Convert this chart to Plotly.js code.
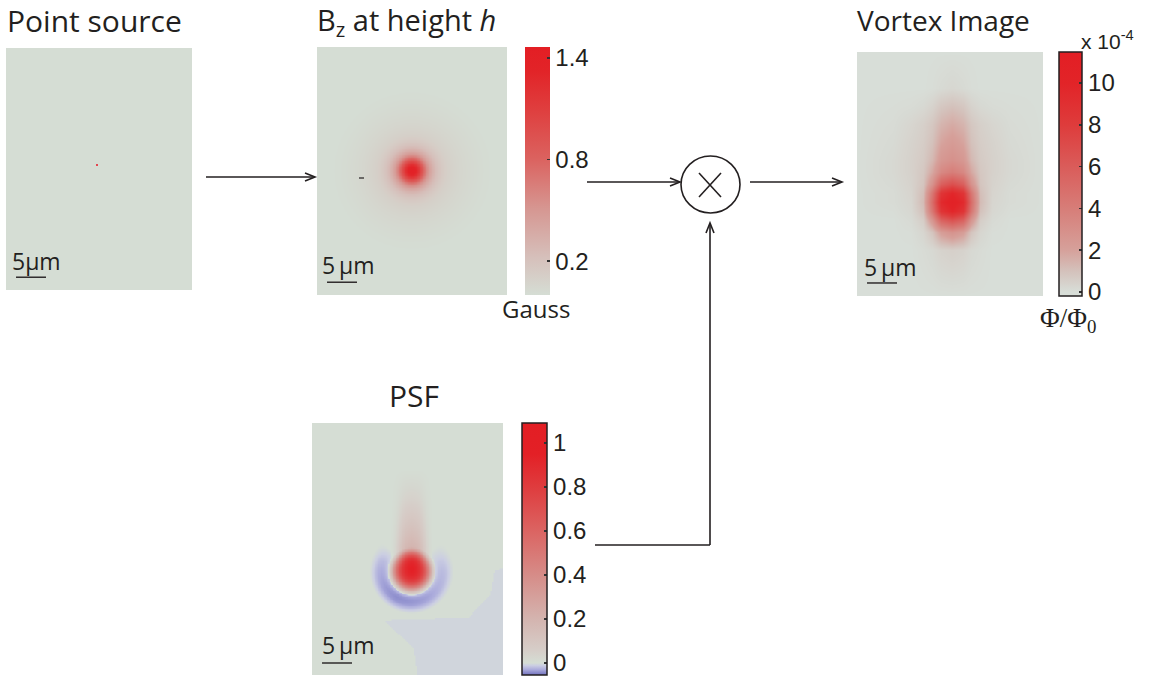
<!DOCTYPE html>
<html><head><meta charset="utf-8">
<script src="https://cdn.plot.ly/plotly-3.0.1.min.js"></script>
<style>html,body{margin:0;padding:0;background:#fff}#chart{width:1156px;height:679px}</style>
</head><body><div id="chart"></div>
<script>
// ================= DATA =================
// Panel sizes in micrometres (6 px per µm; scale bar = 5 µm)
const pointSize  = [31.0, 40.33];
const bzSize     = [31.67, 41.33];
const vortexSize = [31.0, 40.67];
const psfSize    = [31.83, 42.0];

// Point source: one tiny source cell (cell edges in µm)
const pointX = [0, 15.0, 15.35, 31.0];
const pointY = [0, 19.35, 19.7, 40.33];
const pointZ = [[0,0,0],[0,1,0],[0,0,0]];

// Bz at height h: radial profile (µm -> Gauss), centre in µm
const bzCenter = [15.8, 20.5];
const bzRadius = [0, 0.5, 1, 1.5, 2, 2.5, 3, 3.5, 4, 4.5, 5, 5.5, 6, 7, 8, 9, 10, 11, 12, 13, 14];
const bzValue  = [1.42, 1.37, 1.22, 1.0, 0.77, 0.57, 0.42, 0.32, 0.24, 0.19, 0.15, 0.12, 0.1, 0.075, 0.056, 0.042, 0.03, 0.02, 0.011, 0.004, 0];
const bzTicks  = [0.2, 0.8, 1.4];

// Vortex image (units of 1e-4 Phi0), node coordinates in µm
const vortexX = [0, 6, 9, 11, 12.5, 14, 15.8, 17.6, 19, 20.5, 22.5, 25.5, 31];
const vortexY = [0, 6, 9, 12, 15, 18, 20, 22, 23.5, 25, 26.5, 28, 30, 33, 40.67];
const vortexZ = [
  [0,0,0,0,0,0,0,0,0,0,0,0,0],
  [0,0,0,0,0.05,0.15,0.25,0.15,0.05,0,0,0,0],
  [0,0.05,0.1,0.2,0.4,0.8,1.0,0.8,0.4,0.2,0.1,0.05,0],
  [0,0.1,0.3,0.5,0.8,1.4,1.7,1.4,0.8,0.5,0.3,0.1,0],
  [0,0.15,0.4,0.6,1.0,1.9,2.3,1.9,1.0,0.6,0.4,0.15,0],
  [0,0.2,0.45,0.7,1.3,2.5,2.9,2.5,1.3,0.7,0.45,0.2,0],
  [0,0.2,0.45,0.8,1.8,3.4,4.0,3.4,1.8,0.8,0.45,0.2,0],
  [0,0.15,0.4,0.9,2.8,5.8,6.8,5.8,2.8,0.9,0.4,0.15,0],
  [0,0.1,0.35,1.1,4.4,8.6,9.8,8.6,4.4,1.1,0.35,0.1,0],
  [0,0.1,0.3,1.2,5.0,9.5,10.6,9.5,5.0,1.2,0.3,0.1,0],
  [0,0.05,0.25,1.0,4.4,8.6,9.8,8.6,4.4,1.0,0.25,0.05,0],
  [0,0,0.15,0.6,2.6,5.6,6.6,5.6,2.6,0.6,0.15,0,0],
  [0,0,0.05,0.3,0.9,2.2,2.8,2.2,0.9,0.3,0.05,0,0],
  [0,0,0,0.1,0.2,0.4,0.5,0.4,0.2,0.1,0,0,0],
  [0,0,0,0,0,0,0,0,0,0,0,0,0]
];
const vortexTicks = [0, 2, 4, 6, 8, 10];

// PSF pieces (µm, centre of the peak)
const psfCenter = [16.5, 24.6];
const psfBlobR = [0, 0.5, 1, 1.5, 2, 2.5, 3, 3.5, 4];            // radial profile of the peak
const psfBlobV = [0.95, 0.93, 0.89, 0.82, 0.71, 0.54, 0.34, 0.12, 0];
const psfRingR = [3.5, 4.0, 4.5, 5.0, 5.6, 6.1, 6.6, 7.0];       // negative crescent, radial weight
const psfRingW = [0, 0.5, 0.9, 1, 0.9, 0.6, 0.25, 0];
const psfRingAngle = [-180, -135, -125, -110, -90, -60, -30, 0, 30, 60, 90, 110, 125, 135, 180]; // deg from "down"
const psfRingDepth = [0, 0, -0.01, -0.022, -0.03, -0.037, -0.043, -0.04, -0.035, -0.027, -0.022, -0.015, -0.006, 0, 0];
const psfTailDy = [-17, -14, -12, -10, -8, -6, -4, -3, -2, -1, 0];  // upward tail, centre-line values
const psfTailV  = [0, 0.025, 0.045, 0.075, 0.11, 0.15, 0.2, 0.22, 0.15, 0.05, 0];
const psfTailDx = [0, 0.5, 1, 1.5, 2, 2.5, 3, 3.5];                 // tail lateral fall-off
const psfTailW  = [1, 0.95, 0.87, 0.7, 0.45, 0.22, 0.08, 0];
const psfPatch  = [[11.8,32.8],[26,32.3],[29.7,28.3],[30.3,24.5],[31.83,24],[31.83,42],[17.5,42],[16.8,37.3]];
const psfPatchV = -0.0065;                                          // faint negative patch, lower right
const psfTicks = [0, 0.2, 0.4, 0.6, 0.8, 1];

// ================= BUILD =================
const W = 1156, H = 679;
const px = x => x / W;
const py = y => 1 - y / H;
const ink = '#231f20';
const bg = 'rgb(213,221,212)';

function lookup(xs, ys, v) {
  if (v <= xs[0]) return ys[0];
  if (v >= xs[xs.length - 1]) return ys[ys.length - 1];
  let k = 1; while (xs[k] < v) k++;
  const f = (v - xs[k-1]) / (xs[k] - xs[k-1]);
  return ys[k-1] + f * (ys[k] - ys[k-1]);
}
function nodes(size, step) { const a = []; for (let v = 0; v <= size + 1e-6; v += step) a.push(+v.toFixed(3)); return a; }
function inPoly(pt, poly) {
  let c = false;
  for (let i = 0, j = poly.length - 1; i < poly.length; j = i++) {
    const [xi, yi] = poly[i], [xj, yj] = poly[j];
    if ((yi > pt[1]) !== (yj > pt[1]) && pt[0] < (xj - xi) * (pt[1] - yi) / (yj - yi) + xi) c = !c;
  }
  return c;
}

// Bz table from the radial profile
const bzX = nodes(bzSize[0], 0.25), bzY = nodes(bzSize[1], 0.25);
const bzZ = bzY.map(y => bzX.map(x => lookup(bzRadius, bzValue, Math.hypot(x - bzCenter[0], y - bzCenter[1]))));

// PSF table from its read pieces
const psfGX = nodes(psfSize[0], 0.25), psfGY = nodes(psfSize[1], 0.25);
const psfZ = psfGY.map(y => psfGX.map(x => {
  const dx = x - psfCenter[0], dy = y - psfCenter[1];
  const r = Math.hypot(dx, dy);
  const ang = Math.atan2(dx, dy) * 180 / Math.PI;
  let v = lookup(psfBlobR, psfBlobV, r);
  v += lookup(psfRingR, psfRingW, r) * lookup(psfRingAngle, psfRingDepth, ang);
  if (dy <= 0) v += lookup(psfTailDy, psfTailV, dy) * lookup(psfTailDx, psfTailW, Math.abs(dx));
  if (inPoly([x, y], psfPatch)) v = Math.min(v, psfPatchV);
  return v;
}));

const redScale = [
  [0, bg], [0.15, 'rgb(214,192,187)'], [0.35, 'rgb(214,150,145)'],
  [0.55, 'rgb(219,98,95)'], [0.75, 'rgb(223,62,62)'], [0.9, 'rgb(226,36,40)'], [1, 'rgb(227,30,36)']
];
const vZmin = -0.19, vZmax = 11.48;
const vortexScale = [
  [0, 'rgb(216,222,216)'], [0.016, 'rgb(216,222,216)'], [0.1, 'rgb(212,194,188)'],
  [0.19, 'rgb(214,160,154)'], [0.36, 'rgb(215,125,120)'], [0.53, 'rgb(218,92,90)'],
  [0.7, 'rgb(222,60,60)'], [0.87, 'rgb(226,36,40)'], [1, 'rgb(227,30,36)']
];
const pZmin = -0.055, pZmax = 1.091;
const pn = v => (v - pZmin) / (pZmax - pZmin);
const psfScale = [
  [0, 'rgb(112,112,190)'], [pn(-0.03), 'rgb(172,172,220)'], [pn(-0.012), 'rgb(203,206,226)'],
  [pn(0), bg], [pn(0.06), 'rgb(214,205,200)'], [pn(0.2), 'rgb(212,180,175)'],
  [pn(0.4), 'rgb(214,140,136)'], [pn(0.6), 'rgb(219,100,98)'], [pn(0.8), 'rgb(223,60,62)'],
  [pn(0.95), 'rgb(227,32,38)'], [1, 'rgb(227,30,36)']
];

const cbFont = {family: 'Liberation Sans, Arial, sans-serif', size: 24, color: ink};
const cbBase = {xanchor: 'left', yanchor: 'top', xpad: 0, ypad: 0, lenmode: 'pixels',
  thicknessmode: 'pixels', ticks: 'inside', ticklen: 3, tickwidth: 1.5, tickcolor: '#333',
  tickfont: cbFont, tickmode: 'array', borderwidth: 0};

const traces = [
  {type: 'heatmap', x: pointX, y: pointY, z: pointZ, xaxis: 'x', yaxis: 'y',
   colorscale: [[0, bg], [1, 'rgb(228,70,80)']], zmin: 0, zmax: 1, showscale: false, hoverinfo: 'skip'},
  {type: 'heatmap', x: bzX, y: bzY, z: bzZ, xaxis: 'x2', yaxis: 'y2', zsmooth: 'best',
   colorscale: redScale, zmin: 0, zmax: 1.465, hoverinfo: 'skip',
   colorbar: Object.assign({}, cbBase, {x: px(525), y: py(47), len: 248, thickness: 25,
     outlinewidth: 0, tickvals: bzTicks, ticktext: bzTicks.map(v => v.toFixed(1))})},
  {type: 'heatmap', x: vortexX, y: vortexY, z: vortexZ, xaxis: 'x3', yaxis: 'y3', zsmooth: 'best',
   colorscale: vortexScale, zmin: vZmin, zmax: vZmax, hoverinfo: 'skip',
   colorbar: Object.assign({}, cbBase, {x: px(1059), y: py(52), len: 244, thickness: 23,
     outlinewidth: 1.5, outlinecolor: ink, tickvals: vortexTicks, ticktext: vortexTicks.map(String)})},
  {type: 'heatmap', x: psfGX, y: psfGY, z: psfZ, xaxis: 'x4', yaxis: 'y4', zsmooth: 'best',
   colorscale: psfScale, zmin: pZmin, zmax: pZmax, hoverinfo: 'skip',
   colorbar: Object.assign({}, cbBase, {x: px(522), y: py(423), len: 252, thickness: 25,
     outlinewidth: 1.5, outlinecolor: ink, tickvals: psfTicks, ticktext: psfTicks.map(String)})}
];

function ax(x0, x1, range) { return {domain: [px(x0), px(x1)], range: range, visible: false, fixedrange: true}; }
const layout = {
  width: W, height: H, margin: {l: 0, r: 0, t: 0, b: 0},
  paper_bgcolor: '#fff', plot_bgcolor: '#fff', showlegend: false,
  xaxis:  Object.assign(ax(6, 192, [0, pointSize[0]]), {anchor: 'y'}),
  yaxis:  {domain: [py(290), py(48)], range: [pointSize[1], 0], visible: false, fixedrange: true, anchor: 'x'},
  xaxis2: Object.assign(ax(317, 507, [0, bzSize[0]]), {anchor: 'y2'}),
  yaxis2: {domain: [py(295), py(47)], range: [bzSize[1], 0], visible: false, fixedrange: true, anchor: 'x2'},
  xaxis3: Object.assign(ax(857, 1043, [0, vortexSize[0]]), {anchor: 'y3'}),
  yaxis3: {domain: [py(296), py(52)], range: [vortexSize[1], 0], visible: false, fixedrange: true, anchor: 'x3'},
  xaxis4: Object.assign(ax(312, 503, [0, psfSize[0]]), {anchor: 'y4'}),
  yaxis4: {domain: [py(675), py(423)], range: [psfSize[1], 0], visible: false, fixedrange: true, anchor: 'x4'},
  annotations: [], shapes: []
};

const titleFont = {family: 'Open Sans, Noto Sans, sans-serif', size: 29, color: ink};
function note(text, x, y, font, xanchor) {
  layout.annotations.push({text: text, x: px(x), y: py(y), xref: 'paper', yref: 'paper',
    xanchor: xanchor || 'left', yanchor: 'middle', showarrow: false, font: font});
}
note('Point source', 5, 20, Object.assign({}, titleFont, {size: 30}));
note('B<sub>z</sub> at height <i>h</i>', 315, 22, titleFont);
note('Vortex Image', 855, 20, Object.assign({}, titleFont, {size: 28}));
note('PSF', 387, 395, Object.assign({}, titleFont, {size: 30}));
note('Gauss', 500, 309, {family: 'Open Sans, sans-serif', size: 24, color: ink});
note('Φ/Φ<sub>0</sub>', 1038, 320, {family: 'Liberation Serif, serif', size: 27, color: ink});
note('x 10<sup>-4</sup>', 1079, 40, {family: 'Liberation Sans, Arial, sans-serif', size: 21, color: ink});

// scale bars (5 µm) and their labels
const sbFont = {family: 'Open Sans, sans-serif', size: 23, color: ink};
note('5µm', 10, 261, sbFont);
note('5\u2009µm', 320, 265, sbFont);
note('5\u2009µm', 862, 267, sbFont);
note('5\u2009µm', 320, 645, sbFont);
[['x', 'y', 38.2], ['x2', 'y2', 39.2], ['x3', 'y3', 38.5], ['x4', 'y4', 40.0]].forEach(([xr, yr, yy]) => {
  layout.shapes.push({type: 'line', xref: xr, yref: yr, x0: 1.67, x1: 6.67, y0: yy, y1: yy,
    line: {color: ink, width: 1.4}});
});

// flow-diagram arrows
const lw = 1.6;
function seg(x0, y0, x1, y1, w) {
  layout.shapes.push({type: 'line', xref: 'paper', yref: 'paper', x0: px(x0), y0: py(y0), x1: px(x1), y1: py(y1),
    line: {color: ink, width: w || lw}});
}
function head(tx, ty, dir) {
  let p;
  if (dir === 'right') p = `M${px(tx-10)},${py(ty-4)} L${px(tx)},${py(ty)} L${px(tx-10)},${py(ty+4)}`;
  else p = `M${px(tx-4)},${py(ty+10)} L${px(tx)},${py(ty)} L${px(tx+4)},${py(ty+10)}`;
  layout.shapes.push({type: 'path', xref: 'paper', yref: 'paper', path: p, line: {color: ink, width: lw}});
}
seg(206, 177, 314, 177); head(315, 177, 'right');
seg(587, 182, 679, 182); head(680, 182, 'right');
seg(750, 182, 841, 182); head(842, 182, 'right');
seg(595, 545, 710, 545); seg(710, 545, 710, 224); head(710, 223, 'up');
layout.shapes.push({type: 'circle', xref: 'paper', yref: 'paper', x0: px(681), x1: px(740), y0: py(213), y1: py(156),
  line: {color: ink, width: lw}});
seg(699, 173, 721, 197); seg(721, 173, 699, 197);
seg(359, 178, 364, 178, 1.2);   // small dash mark inside the Bz panel

Plotly.newPlot('chart', traces, layout, {displayModeBar: false, staticPlot: true});
</script>
</body></html>
